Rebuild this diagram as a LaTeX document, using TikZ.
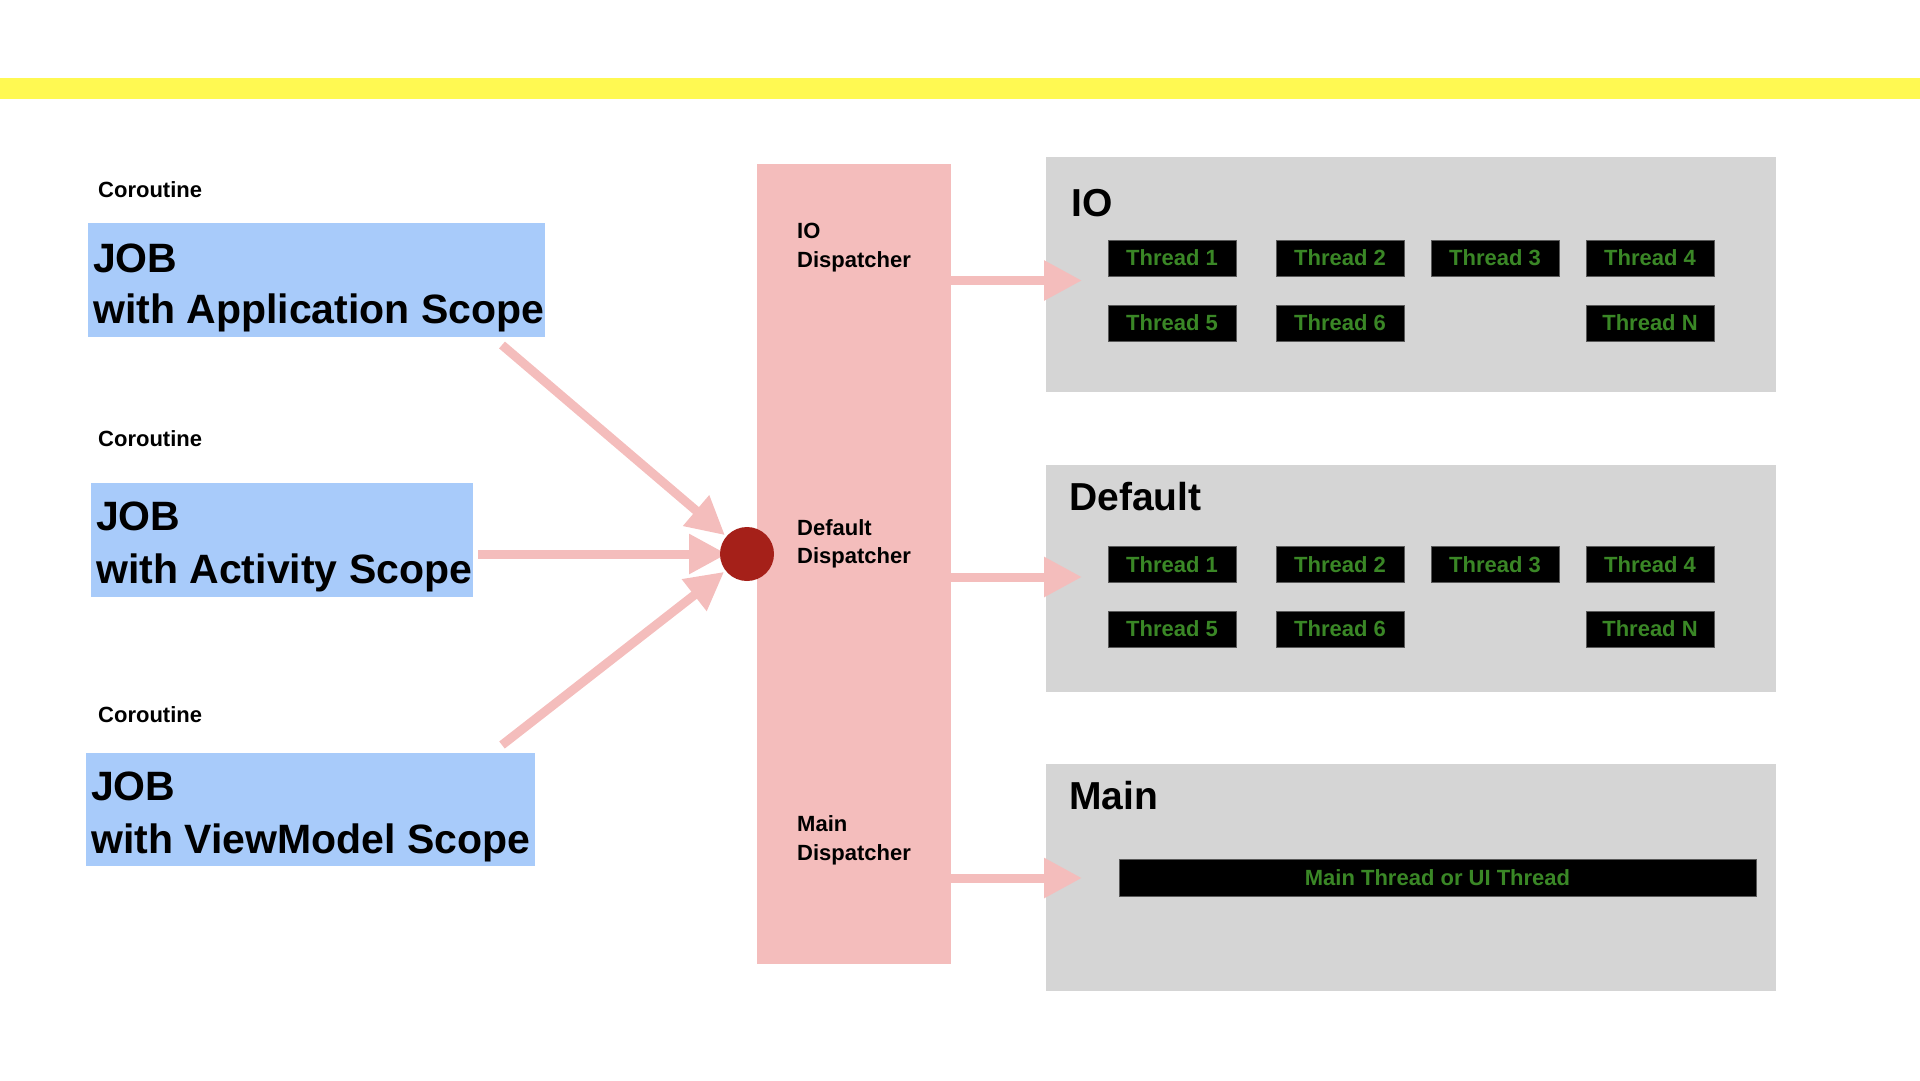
\documentclass[tikz,border=0pt]{standalone}
\usepackage{fontspec}
\setmainfont{Liberation Sans}
\usetikzlibrary{arrows.meta}
\definecolor{yelband}{RGB}{255,249,82}
\definecolor{jobblue}{RGB}{168,203,250}
\definecolor{pinkbar}{RGB}{244,189,188}
\definecolor{dotred}{RGB}{165,32,25}
\definecolor{graybox}{RGB}{213,213,213}
\definecolor{thrgreen}{RGB}{58,135,38}
\tikzset{
  jobbox/.style={fill=jobblue, inner sep=0pt, anchor=north west},
  jobtxt/.style={anchor=base west, inner sep=0pt, font=\fontsize{41}{41}\selectfont\bfseries},
  corotxt/.style={anchor=base west, inner sep=0pt, font=\fontsize{22}{22}\selectfont\bfseries},
  disptxt/.style={anchor=base west, inner sep=0pt, font=\fontsize{22}{22}\selectfont\bfseries},
  titletxt/.style={anchor=base west, inner sep=0pt, font=\fontsize{39}{39}\selectfont\bfseries},
  poolbox/.style={fill=graybox, inner sep=0pt, anchor=north west, minimum width=730pt},
  thr/.style={fill=black, draw=black!65, line width=1pt, minimum width=128pt, minimum height=36pt, inner sep=0pt, text=thrgreen, font=\fontsize{22}{22}\selectfont\bfseries},
  conn/.style={draw=pinkbar, line width=9pt, -{Triangle[length=38pt,width=38pt]}},
}
\begin{document}
\begin{tikzpicture}[x=1pt,y=-1pt]
\useasboundingbox (0,0) rectangle (1920,1080);
% yellow band
\fill[yelband] (0,78) rectangle (1920,99);

% coroutine labels and job boxes
\node[corotxt] (c1) at (98,197) {Coroutine};
\node[jobbox, minimum width=457pt, minimum height=114pt] (job1) at (88,223) {};
\node[jobtxt] (job1a) at (93,272) {JOB};
\node[jobtxt] (job1b) at (93,323) {with Application Scope};

\node[corotxt] (c2) at (98,446) {Coroutine};
\node[jobbox, minimum width=382pt, minimum height=114pt] (job2) at (91,483) {};
\node[jobtxt] (job2a) at (96,530) {JOB};
\node[jobtxt] (job2b) at (96,583) {with Activity Scope};

\node[corotxt] (c3) at (98,722) {Coroutine};
\node[jobbox, minimum width=449pt, minimum height=113pt] (job3) at (86,753) {};
\node[jobtxt] (job3a) at (91,800) {JOB};
\node[jobtxt] (job3b) at (91,853) {with ViewModel Scope};

% pink dispatcher bar
\node[fill=pinkbar, inner sep=0pt, anchor=north west, minimum width=194pt, minimum height=800pt] (bar) at (757,164) {};
\node[disptxt] (d1a) at (797,238) {IO};
\node[disptxt] (d1b) at (797,267) {Dispatcher};
\node[disptxt] (d2a) at (797,535) {Default};
\node[disptxt] (d2b) at (797,563) {Dispatcher};
\node[disptxt] (d3a) at (797,831) {Main};
\node[disptxt] (d3b) at (797,860) {Dispatcher};

% arrows into the dot
\coordinate (dotc) at (747,554);
\coordinate (s1) at (502,345);
\coordinate (s2) at (478,554);
\coordinate (s3) at (502,745);
\draw[conn, shorten >=29pt] (s1) -- (dotc);
\draw[conn, shorten >=20pt] (s2) -- (dotc);
\draw[conn, shorten >=29pt] (s3) -- (dotc);
\node[circle, fill=dotred, minimum size=54pt, inner sep=0pt] (dot) at (dotc) {};

% pool boxes
\node[poolbox, minimum height=235pt] (io) at (1046,157) {};
\node[poolbox, minimum height=227pt] (def) at (1046,465) {};
\node[poolbox, minimum height=227pt] (main) at (1046,764) {};

\node[titletxt] (iot) at (1071,216) {IO};
\node[titletxt] (deft) at (1069,510) {Default};
\node[titletxt] (maint) at (1069,809) {Main};

% IO threads
\node[thr] (io1) at (1172,258) {Thread 1};
\node[thr] (io2) at (1340,258) {Thread 2};
\node[thr] (io3) at (1495,258) {Thread 3};
\node[thr] (io4) at (1650,258) {Thread 4};
\node[thr] (io5) at (1172,323) {Thread 5};
\node[thr] (io6) at (1340,323) {Thread 6};
\node[thr] (ioN) at (1650,323) {Thread N};

% Default threads
\node[thr] (df1) at (1172,564.5) {Thread 1};
\node[thr] (df2) at (1340,564.5) {Thread 2};
\node[thr] (df3) at (1495,564.5) {Thread 3};
\node[thr] (df4) at (1650,564.5) {Thread 4};
\node[thr] (df5) at (1172,629) {Thread 5};
\node[thr] (df6) at (1340,629) {Thread 6};
\node[thr] (dfN) at (1650,629) {Thread N};

% Main thread
\node[thr, minimum width=637pt, minimum height=37pt] (mt) at (1437.5,877.5) {Main Thread or UI Thread};

% dispatcher arrows
\coordinate (ioTip) at (1082,280.5);
\coordinate (dfTip) at (1082,577);
\coordinate (mnTip) at (1082,878);
\draw[conn] (bar.east |- ioTip) -- (ioTip);
\draw[conn] (bar.east |- dfTip) -- (dfTip);
\draw[conn] (bar.east |- mnTip) -- (mnTip);
\end{tikzpicture}
\end{document}
